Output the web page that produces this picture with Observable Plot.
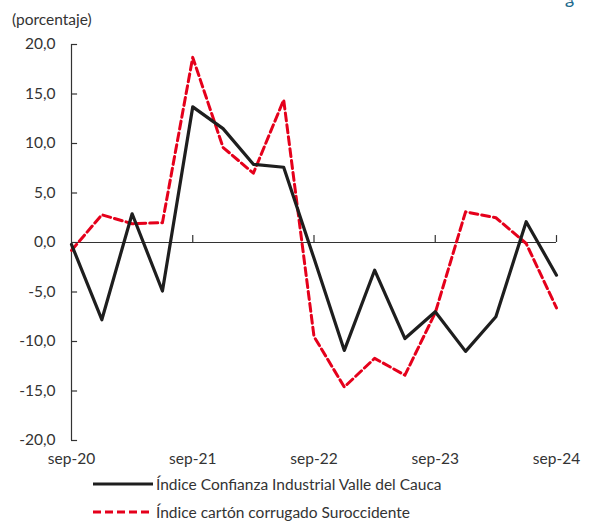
<!DOCTYPE html>
<html>
<head>
<meta charset="utf-8">
<script src="https://cdn.jsdelivr.net/npm/d3@7"></script>
<script src="https://cdn.jsdelivr.net/npm/@observablehq/plot@0.6"></script>
<style>
  html, body { margin: 0; padding: 0; background: #fff; }
  body { font-family: Lato, "Open Sans", sans-serif; color: #333; }
  #wrap { position: relative; width: 589px; height: 521px; overflow: hidden; }
  #unit { position: absolute; left: 12px; top: 10px; font-size: 15.5px; }
  #corner { position: absolute; left: 566px; top: -15px; font-size: 19px; color: #1c6a8c; font-style: italic; }
  #chart { position: absolute; left: 0; top: 0; }
  .leg { position: absolute; left: 92px; font-size: 15.5px; display: flex; align-items: center; white-space: nowrap; }
  .leg svg { margin-right: 2px; }
</style>
</head>
<body>
<div id="wrap">
  <div id="chart"></div>
  <div id="unit">(porcentaje)</div>
  <div id="corner">g</div>
  <div id="legend"></div>
</div>
<script>
// Quarterly series, sep-20 .. sep-24
const quarters = ["sep-20","dic-20","mar-21","jun-21","sep-21","dic-21","mar-22","jun-22","sep-22","dic-22","mar-23","jun-23","sep-23","dic-23","mar-24","jun-24","sep-24"];
const confianza = [-0.2, -7.8, 2.9, -4.9, 13.7, 11.5, 7.9, 7.6, -1.6, -10.9, -2.8, -9.7, -7.0, -11.0, -7.5, 2.1, -3.3];
const carton = [-0.8, 2.8, 1.9, 2.0, 18.7, 9.6, 7.0, 14.4, -9.5, -14.6, -11.7, -13.4, -7.1, 3.1, 2.5, -0.1, -6.6];
const xTickLabels = ["sep-20","sep-21","sep-22","sep-23","sep-24"];
const yTicks = [-20, -15, -10, -5, 0, 5, 10, 15, 20];
const seriesNames = ["Índice Confianza Industrial Valle del Cauca", "Índice cartón corrugado Suroccidente"];

const xTickIdx = xTickLabels.map(l => quarters.indexOf(l));
const dataA = confianza.map((v, i) => ({i, v}));
const dataB = carton.map((v, i) => ({i, v}));
const fmt = d => d.toFixed(1).replace(".", ",");

const BLACK = "#1e1e1e", RED = "#e5001b", AXIS = "#333";

const plot = Plot.plot({
  width: 589,
  height: 470,
  marginLeft: 71,
  marginRight: 33,
  marginTop: 44,
  marginBottom: 30,
  style: {fontFamily: "Lato, 'Open Sans', sans-serif", fontSize: "15.5px", color: "#333", background: "transparent"},
  x: {domain: [0, quarters.length - 1]},
  y: {domain: [-20, 20]},
  marks: [
    Plot.axisY({ticks: yTicks, tickFormat: fmt, tickSize: 0, tickPadding: 16, label: null}),
    Plot.axisX({ticks: xTickIdx, tickFormat: i => quarters[i], tickSize: 0, tickPadding: 12, label: null}),
    Plot.ruleX([0], {y1: -20, y2: 20, stroke: AXIS, strokeWidth: 1.2}),
    Plot.ruleY(yTicks, {x1: 0, x2: 0.2, stroke: AXIS, strokeWidth: 1.2}),
    Plot.ruleY([0], {x1: 0, x2: quarters.length - 1, stroke: AXIS, strokeWidth: 1.2}),
    Plot.ruleX(xTickIdx.slice(1), {y1: 0, y2: 0.7, stroke: AXIS, strokeWidth: 1.2}),
    Plot.line(dataB, {x: "i", y: "v", stroke: RED, strokeWidth: 3, strokeDasharray: "8,4"}),
    Plot.line(dataA, {x: "i", y: "v", stroke: BLACK, strokeWidth: 3.2})
  ]
});
document.getElementById("chart").appendChild(plot);

const legend = document.getElementById("legend");
const styles = [{stroke: BLACK, dash: null}, {stroke: RED, dash: "8,4"}];
const tops = [475, 503];
seriesNames.forEach((name, k) => {
  const row = document.createElement("div");
  row.className = "leg";
  row.style.top = tops[k] + "px";
  row.innerHTML = `<svg width="62" height="10"><line x1="1" y1="5" x2="61" y2="5" stroke="${styles[k].stroke}" stroke-width="3" ${styles[k].dash ? `stroke-dasharray="${styles[k].dash}"` : ""}/></svg><span>${name}</span>`;
  legend.appendChild(row);
});
</script>
</body>
</html>
